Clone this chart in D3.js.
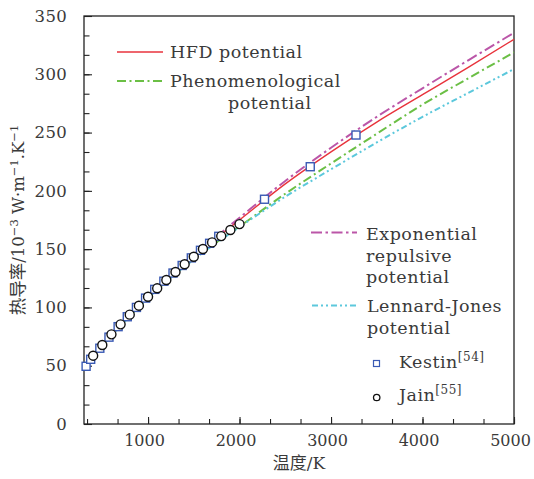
<!DOCTYPE html>
<html>
<head>
<meta charset="utf-8">
<script src="https://cdn.jsdelivr.net/npm/d3@7"></script>
<style>
body{margin:0;background:#fff}
svg{display:block}
</style>
</head>
<body>
<div id="container"></div>
<script>
// temperature grid for the model curves (K)
const temps = [300, 500, 750, 1000, 1250, 1500, 1750, 2000, 2500, 3000, 3500, 4000, 4500, 5000];
const hfd = [50, 68, 90, 110, 128, 144.5, 159.5, 175, 206, 233.5, 259, 282.5, 306, 330];
const phenom = [49.5, 67, 88.5, 108, 125.5, 141.5, 156, 169.5, 197.5, 223.5, 249, 274, 296.5, 318.8];
const expRep = [50, 68, 90, 110.3, 128.5, 145.5, 161, 177, 208.5, 237, 263.5, 288, 312, 335.6];
const lennard = [49.5, 67, 88.5, 108, 125.5, 141, 155.5, 169, 195, 218.5, 241.5, 263.5, 284, 304.5];

// experiments
const kestinT = [323, 373, 473, 573, 673, 773, 873, 973, 1073, 1173, 1273, 1373, 1473, 1573, 1673, 1773, 2273, 2773, 3273];
const kestinV = [49.5, 55.5, 65, 74.5, 83.5, 92, 100, 108, 115.5, 122.5, 129.5, 136, 142.5, 149, 155, 161, 192.8, 220.7, 247.9];
const jainT = [400, 500, 600, 700, 800, 900, 1000, 1100, 1200, 1300, 1400, 1500, 1600, 1700, 1800, 1900, 2000];
const jainV = [58.6, 67.8, 76.9, 85.5, 93.8, 101.5, 109.2, 116.4, 123.5, 130.4, 137.0, 143.5, 150.1, 155.8, 161.2, 166.4, 171.5];

const xTicks = [1000, 2000, 3000, 4000, 5000];
const yTicks = [0, 50, 100, 150, 200, 250, 300, 350];

const serif = "'DejaVu Serif', serif";
const cjk = "'Noto Sans CJK SC', sans-serif";

const w = 534, h = 479;
const margin = {top: 16, left: 84, bottom: 55, right: 20};

const svg = d3.select("#container").append("svg").attr("width", w).attr("height", h);

const x = d3.scaleLinear().domain([300, 5000]).range([margin.left, w - margin.right]);
const y = d3.scaleLinear().domain([0, 350]).range([h - margin.bottom, margin.top]);

// frame
svg.append("rect")
    .attr("x", x(300)).attr("y", y(350))
    .attr("width", x(5000) - x(300)).attr("height", y(0) - y(350))
    .attr("fill", "none").attr("stroke", "#222").attr("stroke-width", 1.3);

// minor ticks every third of a major step
const xMinor = d3.range(1, 16).map(i => i * 1000 / 3);
const yMinor = d3.range(1, 21).map(i => i * 50 / 3);

const xAxis = d3.axisBottom(x).tickValues(xTicks).tickSize(-7).tickPadding(11).tickFormat(d3.format("d"));
const xAxisMinor = d3.axisBottom(x).tickValues(xMinor).tickSize(-5).tickFormat("");
const yAxis = d3.axisLeft(y).tickValues(yTicks).tickSize(-8).tickPadding(17).tickFormat(d3.format("d"));
const yAxisMinor = d3.axisLeft(y).tickValues(yMinor).tickSize(-5.5).tickFormat("");

const gx = svg.append("g").attr("transform", `translate(0,${y(0)})`);
gx.call(xAxisMinor);
gx.append("g").attr("class", "xmajor").call(xAxis);
const gy = svg.append("g").attr("transform", `translate(${x(300)},0)`);
gy.call(yAxisMinor);
gy.append("g").call(yAxis);

svg.selectAll(".domain").remove();
svg.selectAll(".tick line").attr("stroke", "#222").attr("stroke-width", 1.1);
svg.selectAll(".tick text").attr("font-family", serif).attr("font-size", 16.5)
    .attr("letter-spacing", 0.3).attr("fill", "#3a3a3a");
// x labels sit a little left of their ticks, as in the original
gx.selectAll(".xmajor .tick text").attr("font-size", 16).attr("letter-spacing", 0).attr("dx", -4);

// model curves
const series = [
    {vals: phenom, color: "#6bbf45", dash: "9,3.5,2,3.5", width: 2},
    {vals: lennard, color: "#5cc8dc", dash: "6,3,2,3,2,3", width: 2},
    {vals: expRep, color: "#bb56a8", dash: "11,3.5,2.5,3.5", width: 2},
    {vals: hfd, color: "#e8333c", dash: null, width: 1.4}
];

const line = d3.line()
    .x(d => x(d[0]))
    .y(d => y(d[1]))
    .curve(d3.curveMonotoneX);

series.forEach(s => {
    svg.append("path")
        .datum(temps.map((t, i) => [t, s.vals[i]]))
        .attr("d", line)
        .attr("fill", "none")
        .attr("stroke", s.color)
        .attr("stroke-width", s.width)
        .attr("stroke-dasharray", s.dash);
});

// experimental points
svg.append("g").selectAll("rect")
    .data(kestinT.map((t, i) => [t, kestinV[i]]))
    .enter().append("rect")
    .attr("x", d => x(d[0]) - 4)
    .attr("y", d => y(d[1]) - 4)
    .attr("width", 8).attr("height", 8)
    .attr("fill", "#fff").attr("stroke", "#3a5ab4").attr("stroke-width", 1.4);

svg.append("g").selectAll("circle")
    .data(jainT.map((t, i) => [t, jainV[i]]))
    .enter().append("circle")
    .attr("cx", d => x(d[0]))
    .attr("cy", d => y(d[1]))
    .attr("r", 4.5)
    .attr("fill", "#fff").attr("stroke", "#111").attr("stroke-width", 1.4);

// legend
const leg = svg.append("g").attr("font-family", serif).attr("font-size", 17.5)
    .attr("letter-spacing", 0.5).attr("fill", "#3a3a3a");

function legendLine(s, x0, yy) {
    leg.append("line")
        .attr("x1", x0).attr("x2", x0 + 46).attr("y1", yy).attr("y2", yy)
        .attr("stroke", s.color).attr("stroke-width", s.width)
        .attr("stroke-dasharray", s.dash);
}
function legendText(lines, x0, y0, step) {
    lines.forEach((t, i) => {
        leg.append("text").attr("x", x0 + (t.dx || 0)).attr("y", y0 + i * step).text(t.s);
    });
}

legendLine(series[3], 117, 52);
legendText([{s: "HFD potential"}], 170, 58, 0);
legendLine(series[0], 117, 81);
legendText([{s: "Phenomenological"}, {s: "potential", dx: 58}], 170, 87, 22);
legendLine(series[2], 311, 232.5);
legendText([{s: "Exponential"}, {s: "repulsive"}, {s: "potential"}], 366, 240, 21.5);
legendLine(series[1], 312, 305.5);
legendText([{s: "Lennard-Jones"}, {s: "potential"}], 367, 312, 22);

leg.append("rect").attr("x", 373.5).attr("y", 360.5).attr("width", 6).attr("height", 6)
    .attr("fill", "#fff").attr("stroke", "#3a5ab4").attr("stroke-width", 1.2);
const kt = leg.append("text").attr("x", 399).attr("y", 368);
kt.append("tspan").text("Kestin");
kt.append("tspan").attr("dy", -7).attr("font-size", 12).text("[54]");

leg.append("circle").attr("cx", 376.7).attr("cy", 397.5).attr("r", 3.2)
    .attr("fill", "#fff").attr("stroke", "#111").attr("stroke-width", 1.3);
const jt = leg.append("text").attr("x", 399).attr("y", 401);
jt.append("tspan").text("Jain");
jt.append("tspan").attr("dy", -7).attr("font-size", 12).text("[55]");

// axis titles
const xt = svg.append("text")
    .attr("x", (x(300) + x(5000)) / 2).attr("y", 469)
    .attr("text-anchor", "middle").attr("font-size", 17).attr("fill", "#3a3a3a");
xt.append("tspan").attr("font-family", cjk).text("温度");
xt.append("tspan").attr("font-family", serif).text("/K");

const yt = svg.append("text")
    .attr("transform", `translate(24,${(y(0) + y(350)) / 2}) rotate(-90)`)
    .attr("text-anchor", "middle").attr("font-family", serif).attr("font-size", 16.5).attr("fill", "#3a3a3a");
yt.append("tspan").attr("font-family", cjk).attr("font-size", 17.5).text("热导率");
yt.append("tspan").text("/10");
yt.append("tspan").attr("dy", -6).attr("font-size", 11.5).text("−3");
yt.append("tspan").attr("dy", 6).text(" W·m");
yt.append("tspan").attr("dy", -6).attr("font-size", 11.5).text("−1");
yt.append("tspan").attr("dy", 6).text(".K");
yt.append("tspan").attr("dy", -6).attr("font-size", 11.5).text("−1");
</script>
</body>
</html>
